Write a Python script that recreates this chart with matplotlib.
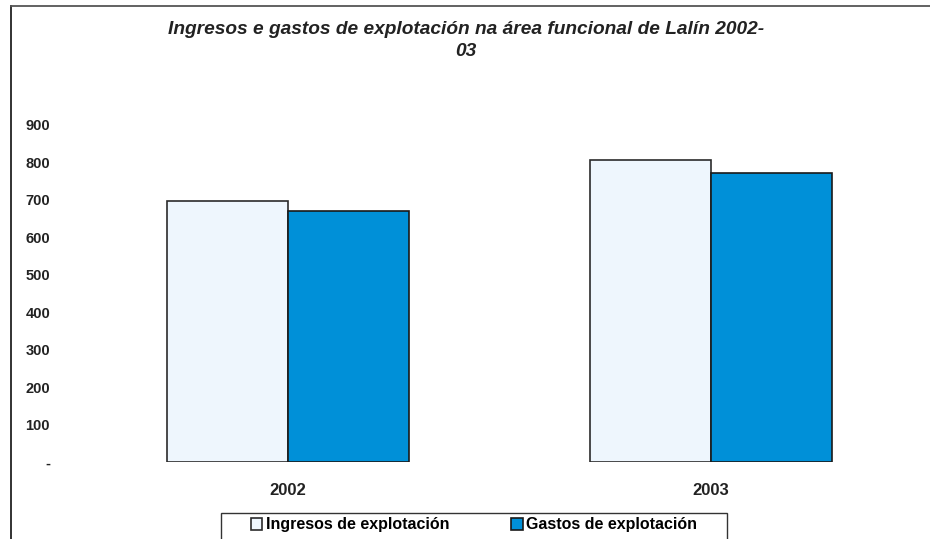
import matplotlib.pyplot as plt
import numpy as np
from matplotlib.lines import Line2D
from matplotlib.patches import Rectangle

# Datos
anos = ["2002", "2003"]
ingresos = [696, 807]
gastos = [671, 773]
ticks_y = [0, 100, 200, 300, 400, 500, 600, 700, 800, 900]
etiquetas_y = ["-", "100", "200", "300", "400", "500", "600", "700", "800", "900"]

plt.rcParams['font.family'] = ['Liberation Sans', 'DejaVu Sans']

fig = plt.figure(figsize=(9.3, 5.39), dpi=100)
W, H = 930, 539
ax = fig.add_axes([76.5 / W, (H - 462.3) / H, 846 / W, (462.3 - 125) / H])

x = np.arange(len(anos))
ancho = 0.286
ax.bar(x - ancho / 2, ingresos, ancho, color='#EEF6FD', edgecolor='#2b2b2b', linewidth=1.2,
       label='Ingresos de explotación')
ax.bar(x + ancho / 2, gastos, ancho, color='#0090D8', edgecolor='#1a1a1a', linewidth=1.2,
       label='Gastos de explotación')

ax.set_xlim(-0.5, 1.5)
ax.set_ylim(0, 900)
ax.set_yticks(ticks_y)
ax.set_yticklabels(etiquetas_y, fontsize=10.5, fontweight='bold', color='#222222')
ax.set_xticks(x)
ax.set_xticklabels(anos, fontsize=12, fontweight='bold', color='#222222')
ax.tick_params(axis='y', length=0, pad=19)
ax.tick_params(axis='x', length=0, pad=15)
for s in ax.spines.values():
    s.set_visible(False)

# Título en dos líneas
fig.text(466 / W, 1 - 30 / H, "Ingresos e gastos de explotación na área funcional de Lalín 2002-",
         ha='center', va='center', fontsize=13.8, fontweight='bold', style='italic', color='#222222')
fig.text(466 / W, 1 - 51 / H, "03", ha='center', va='center', fontsize=13.8,
         fontweight='bold', style='italic', color='#222222')

# Marco parcial (izquierda y arriba)
fig.add_artist(Line2D([10.5 / W, 10.5 / W], [0, 1 - 5.5 / H], color='#222222', lw=1.3))
fig.add_artist(Line2D([10.5 / W, 1], [1 - 5.5 / H, 1 - 5.5 / H], color='#555555', lw=1.3))

# Caja de la leyenda
fig.add_artist(Rectangle((221 / W, -0.02), (727 - 221) / W, 0.02 + (H - 513) / H,
                         transform=fig.transFigure, facecolor='white', edgecolor='#333333', lw=1.0))
leg = fig.legend(loc='center', bbox_to_anchor=(474 / W, 1 - 525 / H), ncol=2,
                 frameon=False, prop={'weight': 'bold', 'size': 11.5},
                 handlelength=0.7, handleheight=0.7, handletextpad=0.2,
                 columnspacing=3.9, borderpad=0.2)
leg.set_zorder(5)

fig.savefig("out.png", dpi=100)
